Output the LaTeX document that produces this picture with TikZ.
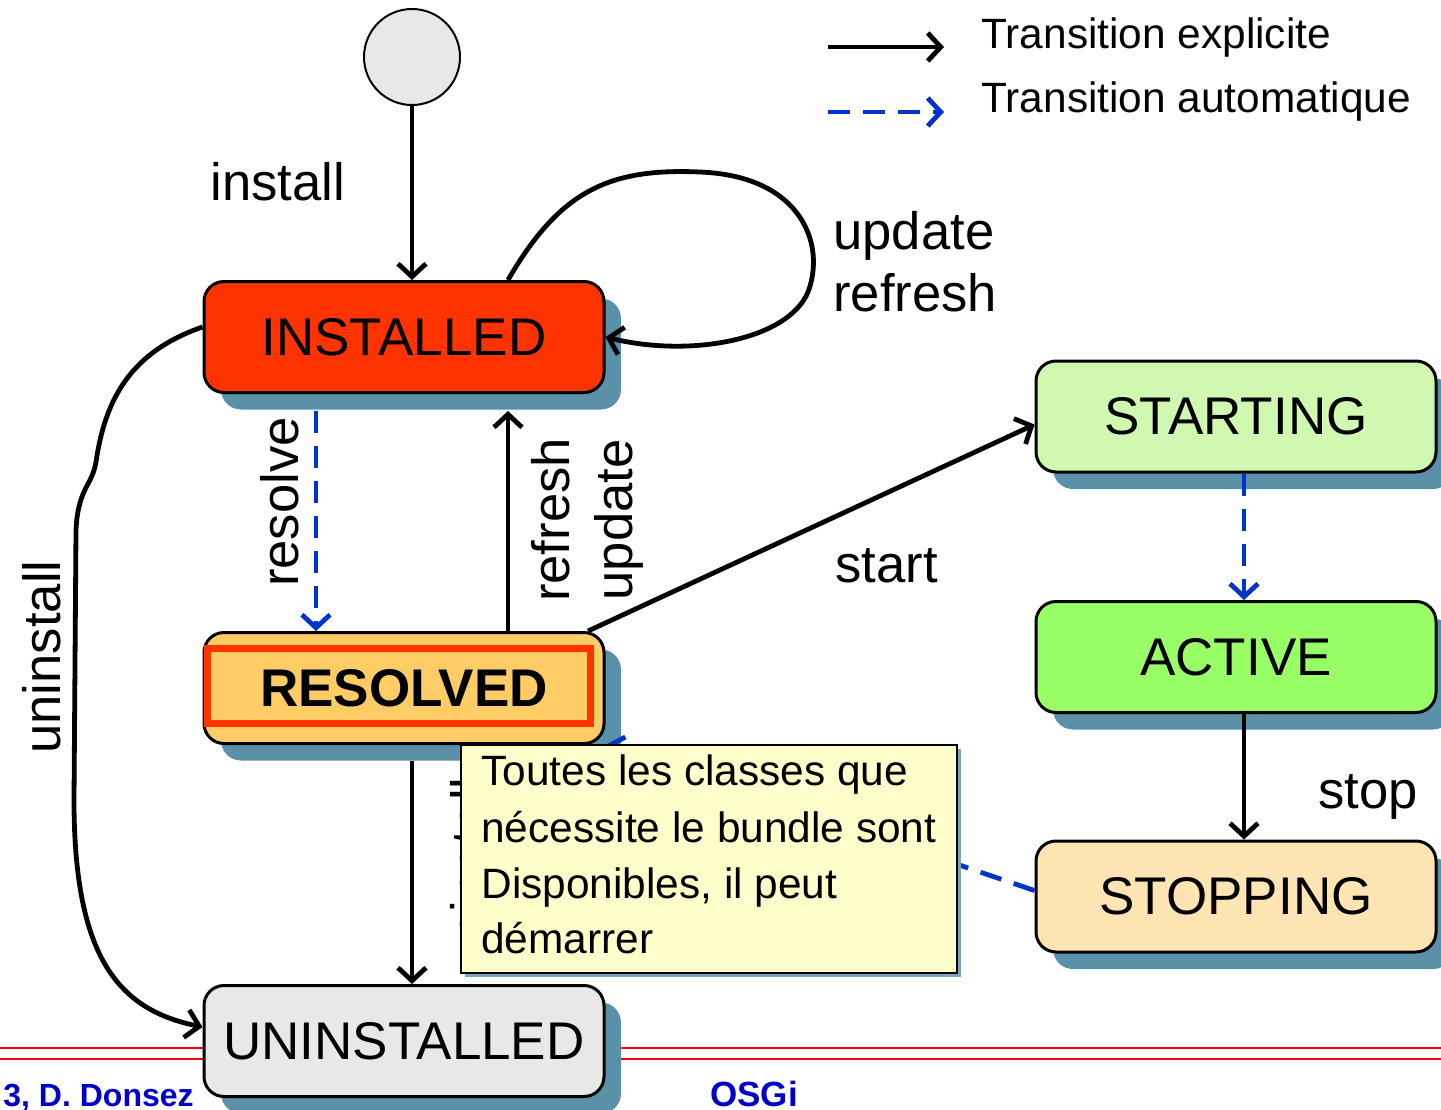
\documentclass[tikz,border=0pt]{standalone}
\usepackage{fontspec}
\setmainfont{Liberation Sans}
\usetikzlibrary{arrows.meta,shadows}
\definecolor{installedc}{HTML}{FF3300}
\definecolor{resolvedc}{HTML}{FFCC66}
\definecolor{uninstc}{HTML}{E8E8E8}
\definecolor{startc}{HTML}{D0F8B0}
\definecolor{activec}{HTML}{99FF66}
\definecolor{stopc}{HTML}{FFE4B4}
\definecolor{notec}{HTML}{FFFFCC}
\definecolor{shadowc}{HTML}{5A90A8}
\definecolor{bluec}{HTML}{0033CC}
\definecolor{footblue}{HTML}{0000CC}
\begin{document}
\begin{tikzpicture}[x=0.5pt,y=-0.5pt,
  >={Straight Barb[length=6.5pt,width=14pt]},
  conn/.style={line width=2.4pt, draw=black},
  autoconn/.style={line width=2.4pt, draw=bluec, dash pattern=on 11pt off 6.5pt},
  stbox/.style={rectangle, rounded corners=10pt, draw=black, line width=1.5pt,
    minimum width=200pt, minimum height=55.5pt, inner sep=0pt,
    font=\fontsize{26.5}{31}\selectfont,
    drop shadow={shadow xshift=8.5pt, shadow yshift=-8.5pt, fill=shadowc, opacity=1}},
  lbl/.style={font=\fontsize{26.3}{31}\selectfont, inner sep=0pt},
  notefont/.style={font=\fontsize{21.2}{25}\selectfont, inner sep=0pt},
]
\useasboundingbox (0,0) rectangle (1441,1109);
\clip (0,0) rectangle (1441,1109);

% footer lines
\coordinate (fl1) at (0,1048); \coordinate (fr1) at (1441,1048);
\coordinate (fl2) at (0,1059); \coordinate (fr2) at (1441,1059);
\draw[red, line width=1pt] (fl1) -- (fr1);
\draw[red, line width=1pt] (fl2) -- (fr2);
\node[anchor=base west, text=footblue, font=\fontsize{16}{19}\selectfont\bfseries, inner sep=0pt] (foot1) at (3,1106) {3, D. Donsez};
\node[anchor=base west, text=footblue, font=\fontsize{17.5}{20}\selectfont\bfseries, inner sep=0pt] (foot2) at (710,1106) {OSGi};

% initial state
\node[circle, draw=black, line width=1pt, fill=uninstc, minimum size=48pt, inner sep=0pt] (init) at (412,57) {};

% states
\node[stbox, fill=installedc] (inst) at (404,337) {INSTALLED};
\node[stbox, fill=resolvedc, font=\fontsize{26.5}{31}\selectfont\bfseries] (res) at (404,688) {RESOLVED};
\draw[installedc, line width=3.5pt] (207,648) rectangle (590,723);
\node[stbox, fill=uninstc] (unin) at (404,1041) {UNINSTALLED};
\node[stbox, fill=startc] (start) at (1236,416.5) {STARTING};
\node[stbox, fill=activec] (act) at (1236,657) {ACTIVE};
\node[stbox, fill=stopc] (stop) at (1236,896.5) {STOPPING};

% transitions
\draw[conn,->] (init.south) -- (init.south |- inst.north);
\node[lbl, anchor=base west] (linstall) at (210,200) {install};

\draw[conn,->] ([xshift=52pt]inst.north) .. controls (560,190) and (610,168) .. (700,172)
  .. controls (802,176) and (826,245) .. (808,292)
  .. controls (788,340) and (690,358) .. (inst.east);
\node[lbl, anchor=base west] (lupdate) at (833,249) {update};
\node[lbl, anchor=base west] (lrefresh) at (833,311) {refresh};

\draw[autoconn,->] ([xshift=-44pt,yshift=-8.5pt]inst.south) -- ([xshift=-44pt]res.north);
\node[lbl, rotate=90, anchor=north] (lresolve) at (260,502) {resolve};

\draw[conn,->] ([xshift=52pt]res.north) -- ([xshift=52pt,yshift=-8.5pt]inst.south);
\node[lbl, rotate=90, anchor=north] (lrefresh2) at (531,520) {refresh};
\node[lbl, rotate=90, anchor=north] (lupdate2) at (594,520) {update};

\draw[conn,->] ([xshift=92pt]res.north) -- ([yshift=-4pt]start.west);
\node[lbl, anchor=base west] (lstart) at (835,582) {start};

\draw[autoconn,->] ([xshift=4pt]start.south) -- ([xshift=4pt]act.north);
\draw[conn,->] ([xshift=4pt]act.south) -- ([xshift=4pt]stop.north);
\node[lbl, anchor=base west] (lstop) at (1318,808) {stop};

\draw[conn,->] (inst.west |- 0,327) .. controls (130,352) and (105,400) .. (96,462)
  .. controls (92,486) and (78,488) .. (76,530)
  -- (74,800) .. controls (74,960) and (120,1010) .. (unin.west |- 0,1027);
\node[lbl, rotate=90, anchor=north] (luninst) at (22,657) {uninstall};

\draw[conn,->] ([xshift=4pt,yshift=-8pt]res.south) -- ([xshift=4pt]unin.north);
\node[lbl, rotate=90, anchor=north] (luninst2) at (450,874) {uninstall};

\draw[autoconn,->] ([yshift=3pt]stop.west) -- (res.south east);

% note
\node[draw=black, line width=0.8pt, fill=notec, minimum width=248pt, minimum height=114pt, inner sep=0pt,
  drop shadow={shadow xshift=2pt, shadow yshift=-2pt, fill=shadowc!80, opacity=1}] (note) at (709,859) {};
\node[notefont, anchor=base west] (n1) at (481,785) {Toutes les classes que};
\node[notefont, anchor=base west] (n2) at (481,842) {nécessite le bundle sont};
\node[notefont, anchor=base west] (n3) at (481,898) {Disponibles, il peut};
\node[notefont, anchor=base west] (n4) at (481,953) {démarrer};

% legend
\coordinate (la1) at (828,47); \coordinate (la2) at (944,47);
\coordinate (lb1) at (828,112); \coordinate (lb2) at (944,112);
\draw[conn,->] (la1) -- (la2);
\draw[autoconn,->] (lb1) -- (lb2);
\node[notefont, anchor=base west] (lg1) at (981,48) {Transition explicite};
\node[notefont, anchor=base west] (lg2) at (981,112) {Transition automatique};
\end{tikzpicture}
\end{document}
